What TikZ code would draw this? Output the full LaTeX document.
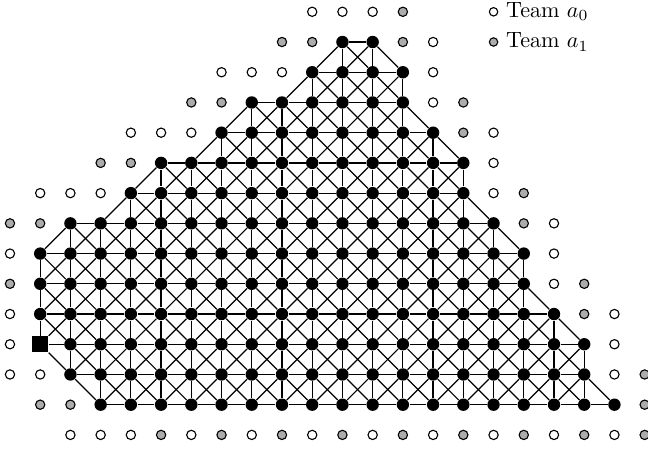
\documentclass[tikz,border=0pt]{standalone}
\usepackage{tikz}
\usetikzlibrary{positioning}
\definecolor{teamgray}{RGB}{172,172,172}

\begin{document}
\begin{tikzpicture}[x=0.48cm, y=0.48cm,
    player/.style={circle, fill=black, inner sep=0pt, minimum size=5.6pt},
    depot/.style={rectangle, fill=black, inner sep=0pt, minimum size=7.2pt},
    teamzero/.style={circle, draw, fill=white, inner sep=0pt, minimum size=4.2pt, line width=0.5pt},
    teamone/.style={teamzero, fill=teamgray},
    legendzero/.style={teamzero, minimum size=3.8pt},
    legendone/.style={teamone, minimum size=3.8pt},
    link/.style={line width=0.55pt}]
    % Picture frame
    \useasboundingbox (-0.33,0.39) rectangle (21.11,-14.44);

    % First and last column of the black points in rows 1..13
    \def\firstcol{{0,11,10,8,7,5,4,2,1,1,1,1,2,3}}
    \def\lastcol{{0,12,13,13,14,15,15,16,17,17,18,19,19,20}}

    % Black points, the square one is in row 11, column 1
    \foreach \j in {1,...,13}{
        \pgfmathtruncatemacro\lo{\firstcol[\j]}
        \pgfmathtruncatemacro\hi{\lastcol[\j]}
        \foreach \k in {\lo,...,\hi}{
            \def\kind{player}
            \ifnum\j=11 \ifnum\k=1 \def\kind{depot}\fi\fi
            \node[\kind] (v-\k-\j) at (\k,-\j) {};
        }
    }

    % Horizontal links in each row
    \foreach \j in {1,...,13}{
        \pgfmathtruncatemacro\lo{\firstcol[\j]}
        \pgfmathtruncatemacro\hi{\lastcol[\j]-1}
        \foreach \k in {\lo,...,\hi}{
            \pgfmathtruncatemacro\m{\k+1}
            \draw[link] (v-\k-\j) -- (v-\m-\j);
        }
    }

    % Vertical and diagonal links to the row below
    \foreach \j in {1,...,12}{
        \pgfmathtruncatemacro\jj{\j+1}
        \pgfmathtruncatemacro\lo{\firstcol[\j]}
        \pgfmathtruncatemacro\hi{\lastcol[\j]}
        \pgfmathtruncatemacro\nlo{\firstcol[\jj]}
        \pgfmathtruncatemacro\nhi{\lastcol[\jj]}
        \foreach \k in {\lo,...,\hi}{
            \foreach \dk in {-1,0,1}{
                \pgfmathtruncatemacro\m{\k+\dk}
                \ifnum\m<\nlo\else\ifnum\m>\nhi\else
                    \draw[link] (v-\k-\j) -- (v-\m-\jj);
                \fi\fi
            }
        }
    }

    % Points of team a_0 (white)
    \foreach \k/\j in {10/0,11/0,12/0, 14/1, 7/2,8/2,9/2,14/2, 14/3,
                       4/4,5/4,6/4,16/4, 16/5, 1/6,2/6,3/6,16/6, 18/7,
                       0/8,18/8, 18/9, 0/10,20/10, 0/11,20/11, 0/12,1/12,20/12,
                       2/14,3/14,4/14,6/14,8/14,10/14,12/14,14/14,16/14,18/14,20/14}
        \node[teamzero] (t-\k-\j) at (\k,-\j) {};

    % Points of team a_1 (gray)
    \foreach \k/\j in {13/0, 9/1,10/1,13/1, 6/3,7/3,15/3, 15/4, 3/5,4/5,
                       17/6, 0/7,1/7,17/7, 0/9,19/9, 19/10, 21/12, 1/13,2/13,21/13,
                       5/14,7/14,9/14,11/14,13/14,15/14,17/14,19/14,21/14}
        \node[teamone] (t-\k-\j) at (\k,-\j) {};

    % Legend
    \node[legendzero] (leg-zero) at (16,0) {};
    \node[right=0pt of leg-zero] (lab-zero) {Team $a_0$};
    \node[legendone] (leg-one) at (16,-1) {};
    \node[right=0pt of leg-one] (lab-one) {Team $a_1$};
\end{tikzpicture}
\end{document}
